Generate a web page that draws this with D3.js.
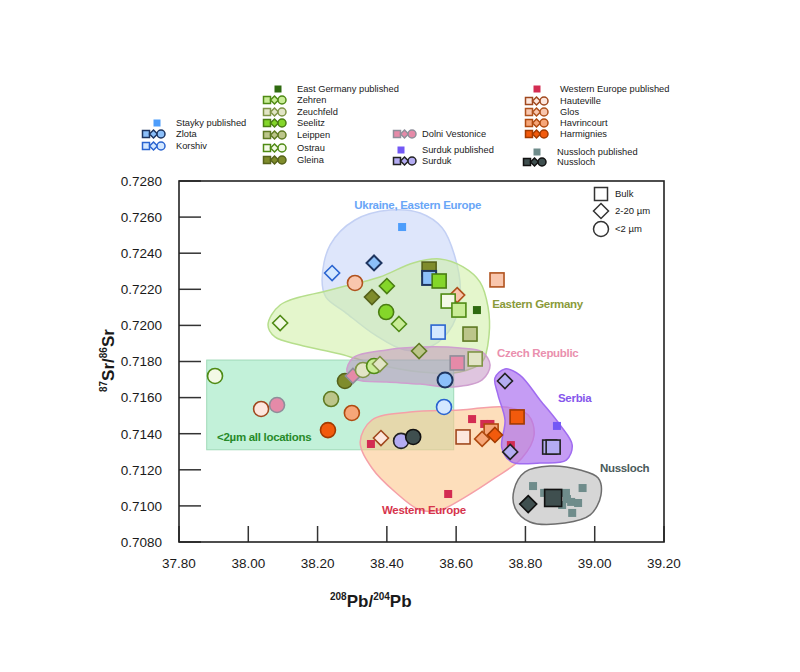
<!DOCTYPE html>
<html lang="en">
  <head>
    <meta charset="utf-8">
    <title>Sr-Pb isotopes</title>
    <script src="https://d3js.org/d3.v7.min.js"></script>
    <style>
      body { margin: 0; background: #fff; }
      text { font-family: "Liberation Sans", Arial, sans-serif; fill: #1a1a1a; }
    </style>
  </head>
  <body>
    <script>
      const w = 800;
      const h = 672;
      const plot = {left: 179, right: 664, top: 181, bottom: 542};

      // ticks
      const xTicks = [37.8, 38.0, 38.2, 38.4, 38.6, 38.8, 39.0, 39.2];
      const yTicks = [0.708, 0.710, 0.712, 0.714, 0.716, 0.718, 0.720, 0.722, 0.724, 0.726, 0.728];

      // published reference values (small squares)
      const published = [
        ["Stayky", 38.444, 0.72545],
        ["East Germany", 38.660, 0.72085],
        ["Surduk", 38.891, 0.71443],
        ["Western Europe", 38.646, 0.71481],
        ["Western Europe", 38.681, 0.71454],
        ["Western Europe", 38.699, 0.71454],
        ["Western Europe", 38.758, 0.71337],
        ["Western Europe", 38.577, 0.71066],
        ["Western Europe", 38.354, 0.71343],
        ["Nussloch", 38.822, 0.71110],
        ["Nussloch", 38.854, 0.71072],
        ["Nussloch", 38.917, 0.71072],
        ["Nussloch", 38.965, 0.71099],
        ["Nussloch", 38.920, 0.71038],
        ["Nussloch", 38.932, 0.71022],
        ["Nussloch", 38.952, 0.71016],
        ["Nussloch", 38.906, 0.71005],
        ["Nussloch", 38.935, 0.70961]
      ];

      // samples: location, fraction (bulk / fine = 2-20 um / clay = <2 um), Pb, Sr  (in drawing order)
      const samples = [
        ["Gleina", "bulk", 38.522, 0.72312],
        ["Zlota", "bulk", 38.522, 0.72263],
        ["Seelitz", "bulk", 38.551, 0.72246],
        ["Glos", "fine", 38.603, 0.72168],
        ["Ostrau", "bulk", 38.577, 0.72135],
        ["Zehren", "bulk", 38.608, 0.72085],
        ["Glos", "bulk", 38.718, 0.72252],
        ["Korshiv", "bulk", 38.548, 0.71963],
        ["Leippen", "bulk", 38.640, 0.71952],
        ["Zeuchfeld", "bulk", 38.655, 0.71814],
        ["Dolni Vestonice", "bulk", 38.603, 0.71792],
        ["Harmignies", "bulk", 38.776, 0.71493],
        ["Hauteville", "bulk", 38.620, 0.71382],
        ["Havrincourt", "bulk", 38.701, 0.71415],
        ["Surduk", "bulk", 38.870, 0.71326],
        ["Surduk", "bulk", 38.880, 0.71326],
        ["Nussloch", "bulk", 38.880, 0.71044],
        ["Korshiv", "fine", 38.242, 0.72290],
        ["Zlota", "fine", 38.363, 0.72346],
        ["Seelitz", "fine", 38.400, 0.72218],
        ["Gleina", "fine", 38.357, 0.72157],
        ["Zehren", "fine", 38.435, 0.72008],
        ["Ostrau", "fine", 38.092, 0.72013],
        ["Leippen", "fine", 38.493, 0.71858],
        ["Surduk", "fine", 38.741, 0.71692],
        ["Hauteville", "fine", 38.383, 0.71376],
        ["Havrincourt", "fine", 38.675, 0.71371],
        ["Harmignies", "fine", 38.712, 0.71393],
        ["Surduk", "fine", 38.756, 0.71299],
        ["Nussloch", "fine", 38.808, 0.71010],
        ["Glos", "clay", 38.308, 0.72235],
        ["Seelitz", "clay", 38.398, 0.72074],
        ["Zlota", "clay", 38.568, 0.71698],
        ["Korshiv", "clay", 38.565, 0.71548],
        ["Ostrau", "clay", 37.904, 0.71720],
        ["Hauteville", "clay", 38.037, 0.71537],
        ["Dolni Vestonice", "clay", 38.083, 0.71559],
        ["Leippen", "clay", 38.239, 0.71592],
        ["Harmignies", "clay", 38.230, 0.71420],
        ["Havrincourt", "clay", 38.299, 0.71515],
        ["Gleina", "clay", 38.279, 0.71692],
        ["Dolni Vestonice", "fine", 38.302, 0.71720],
        ["Zeuchfeld", "clay", 38.331, 0.71753],
        ["Zehren", "clay", 38.363, 0.71775],
        ["Zeuchfeld", "fine", 38.380, 0.71786],
        ["Surduk", "clay", 38.441, 0.71360],
        ["Nussloch", "clay", 38.476, 0.71382]
      ];

      // outlines of the regional fields (Pb, Sr)
      const ukraineField = [[38.213,0.72252],[38.236,0.72445],[38.308,0.72584],[38.409,0.72639],[38.496,0.72623],[38.560,0.72540],[38.595,0.72390],[38.612,0.72196],[38.590,0.72002],[38.530,0.71886],[38.452,0.71864],[38.366,0.71947],[38.279,0.72074],[38.224,0.72157]];
      const germanyField = [[38.057,0.72002],[38.092,0.72113],[38.236,0.72196],[38.380,0.72268],[38.476,0.72346],[38.553,0.72368],[38.620,0.72324],[38.669,0.72240],[38.692,0.72102],[38.695,0.71947],[38.675,0.71797],[38.611,0.71742],[38.496,0.71742],[38.366,0.71786],[38.265,0.71842],[38.149,0.71891],[38.077,0.71936]];
      const czechField = [[38.285,0.71742],[38.302,0.71820],[38.400,0.71864],[38.496,0.71880],[38.611,0.71875],[38.675,0.71853],[38.698,0.71781],[38.675,0.71698],[38.591,0.71659],[38.496,0.71675],[38.400,0.71686],[38.314,0.71698]];
      const westField = [[38.323,0.71354],[38.357,0.71476],[38.467,0.71520],[38.611,0.71531],[38.741,0.71548],[38.808,0.71504],[38.825,0.71393],[38.790,0.71265],[38.712,0.71155],[38.626,0.71049],[38.553,0.70977],[38.496,0.70977],[38.424,0.71077],[38.357,0.71210]];
      const serbiaField = [[38.712,0.71709],[38.741,0.71759],[38.784,0.71725],[38.842,0.71587],[38.900,0.71448],[38.935,0.71337],[38.918,0.71254],[38.842,0.71238],[38.761,0.71243],[38.732,0.71321],[38.741,0.71476],[38.721,0.71614]];
      const nusslochField = [[38.767,0.71088],[38.799,0.71188],[38.871,0.71221],[38.958,0.71199],[39.010,0.71155],[39.018,0.71060],[38.987,0.70950],[38.914,0.70905],[38.813,0.70911],[38.770,0.70989]];
      const clayBox = [37.88, 38.593, 0.71311, 0.71808];

      const styles = {
        "Zlota": {fill: "#8cc0fa", stroke: "#1e3560"},
        "Korshiv": {fill: "#d4e8ff", stroke: "#2a64d0"},
        "Zehren": {fill: "#c9ec96", stroke: "#4f8a14"},
        "Zeuchfeld": {fill: "#e2e5c6", stroke: "#7f9446"},
        "Seelitz": {fill: "#84d62a", stroke: "#4a7e12"},
        "Leippen": {fill: "#bcc58a", stroke: "#5f7a22"},
        "Ostrau": {fill: "#f3f9e6", stroke: "#4f8a14"},
        "Gleina": {fill: "#7f8c2c", stroke: "#56621a"},
        "Dolni Vestonice": {fill: "#e58aa8", stroke: "#8e8e9a"},
        "Surduk": {fill: "#b4acf2", stroke: "#222222"},
        "Hauteville": {fill: "#fde7de", stroke: "#a0481e"},
        "Glos": {fill: "#f9c6ad", stroke: "#b0521e"},
        "Havrincourt": {fill: "#f6a678", stroke: "#b04a10"},
        "Harmignies": {fill: "#f25a0c", stroke: "#a23a00"},
        "Nussloch": {fill: "#3f4f4f", stroke: "#111111"}
      };
      const pubColor = {"Stayky": "#4d9dfb", "East Germany": "#2f6a10", "Surduk": "#7358f5", "Western Europe": "#d32c52", "Nussloch": "#6f8c8b"};

      const xScale = d3.scaleLinear().domain([37.8, 39.2]).range([plot.left, plot.right]);
      const yScale = d3.scaleLinear().domain([0.708, 0.728]).range([plot.bottom, plot.top]);

      const svg = d3.select("body").append("svg")
        .attr("width", w)
        .attr("height", h);

      svg.append("rect").attr("width", w).attr("height", h).attr("fill", "#fff");

      // marker helper
      function marker(g, type, cx, cy, s) {
        let el;
        if (type === "bulk" || type === "pub") {
          el = g.append("rect").attr("x", cx - s / 2).attr("y", cy - s / 2).attr("width", s).attr("height", s);
        } else if (type === "fine") {
          const r = s / 2;
          el = g.append("path").attr("d", `M${cx},${cy - r}L${cx + r},${cy}L${cx},${cy + r}L${cx - r},${cy}Z`);
        } else {
          el = g.append("circle").attr("cx", cx).attr("cy", cy).attr("r", s / 2);
        }
        return el;
      }

      // fields
      const fieldLine = d3.line()
        .x(d => xScale(d[0]))
        .y(d => yScale(d[1]))
        .curve(d3.curveCatmullRomClosed.alpha(0.5));

      const fields = svg.append("g").attr("id", "fields");
      fields.append("path").attr("d", fieldLine(ukraineField))
        .attr("fill", "#d3defa").attr("fill-opacity", 0.75).attr("stroke", "#c3d0f4").attr("stroke-width", 1.5);
      fields.append("path").attr("d", fieldLine(germanyField))
        .attr("fill", "#cdeea2").attr("fill-opacity", 0.55).attr("stroke", "#b6de8c").attr("stroke-width", 1.5);
      fields.append("rect")
        .attr("x", xScale(clayBox[0])).attr("y", yScale(clayBox[3]))
        .attr("width", xScale(clayBox[1]) - xScale(clayBox[0]))
        .attr("height", yScale(clayBox[2]) - yScale(clayBox[3]))
        .attr("fill", "#b3eed0").attr("fill-opacity", 0.8).attr("stroke", "#9fd9b8").attr("stroke-width", 1);
      fields.append("path").attr("d", fieldLine(czechField))
        .attr("fill", "#b97fb8").attr("fill-opacity", 0.45).attr("stroke", "#cf9fcf").attr("stroke-width", 1.5);
      fields.append("path").attr("d", fieldLine(westField))
        .attr("fill", "#fbc88e").attr("fill-opacity", 0.6).attr("stroke", "#f5a0a8").attr("stroke-width", 1.5);
      fields.append("path").attr("d", fieldLine(serbiaField))
        .attr("fill", "#ad72f0").attr("fill-opacity", 0.7).attr("stroke", "#a06cf0").attr("stroke-width", 1.5);
      fields.append("path").attr("d", fieldLine(nusslochField))
        .attr("fill", "#d6d6d6").attr("stroke", "#6e6e6e").attr("stroke-width", 1.5);

      // field labels
      const fieldLabels = [
        ["Ukraine, Eastern Europe", 38.489, 0.72645, "#69a6f7", "middle"],
        ["Eastern Germany", 38.704, 0.72096, "#8a9a3a", "start"],
        ["Czech Republic", 38.718, 0.71825, "#ea8fae", "start"],
        ["Serbia", 38.894, 0.71576, "#8656ec", "start"],
        ["Nussloch", 39.015, 0.71188, "#4b5b5b", "start"],
        ["Western Europe", 38.386, 0.70955, "#d6344c", "start"],
        ["<2\u00b5m all locations", 37.910, 0.71360, "#278a2a", "start"]
      ];
      svg.append("g").selectAll("text")
        .data(fieldLabels)
        .enter()
        .append("text")
        .attr("x", d => xScale(d[1]))
        .attr("y", d => yScale(d[2]))
        .attr("text-anchor", d => d[4])
        .attr("font-size", "11.5px")
        .attr("font-weight", "bold")
        .attr("letter-spacing", "-0.3px")
        .style("fill", d => d[3])
        .text(d => d[0]);

      // published values
      const pts = svg.append("g").attr("id", "points");
      published.forEach(d => {
        marker(pts, "pub", xScale(d[1]), yScale(d[2]), 8).attr("fill", pubColor[d[0]]);
      });

      // samples
      samples.forEach(d => {
        const st = styles[d[0]];
        let s = d[1] === "bulk" ? 14 : 15;
        if (d[0] === "Nussloch" && d[1] !== "clay") s = 17;
        marker(pts, d[1], xScale(d[2]), yScale(d[3]), s)
          .attr("fill", st.fill)
          .attr("stroke", st.stroke)
          .attr("stroke-width", d[0] === "Zlota" ? 2 : 1.6);
      });

      // frame and ticks
      const axes = svg.append("g").attr("id", "axes");
      axes.selectAll("line.yt").data(yTicks).enter().append("line")
        .attr("x1", plot.left).attr("x2", plot.left + 22)
        .attr("y1", d => yScale(d)).attr("y2", d => yScale(d))
        .attr("stroke", "#333").attr("stroke-width", 1.5);
      axes.selectAll("line.xt").data(xTicks).enter().append("line")
        .attr("x1", d => xScale(d)).attr("x2", d => xScale(d))
        .attr("y1", plot.bottom).attr("y2", plot.bottom - 16)
        .attr("stroke", "#333").attr("stroke-width", 1.5);
      axes.append("rect")
        .attr("x", plot.left).attr("y", plot.top)
        .attr("width", plot.right - plot.left).attr("height", plot.bottom - plot.top)
        .attr("fill", "none").attr("stroke", "#222").attr("stroke-width", 1.6);

      axes.selectAll("text.yl").data(yTicks).enter().append("text")
        .attr("x", 162).attr("y", d => yScale(d)).attr("dy", "0.36em")
        .attr("text-anchor", "end").attr("font-size", "13.5px")
        .text(d => d.toFixed(4));
      axes.selectAll("text.xl").data(xTicks).enter().append("text")
        .attr("x", d => xScale(d)).attr("y", 568)
        .attr("text-anchor", "middle").attr("font-size", "13.5px")
        .text(d => d.toFixed(2));

      // axis titles
      const xt = svg.append("text").attr("x", 330).attr("y", 607)
        .attr("font-weight", "bold").attr("font-size", "17px");
      xt.append("tspan").attr("font-size", "10px").attr("dy", "-7").text("208");
      xt.append("tspan").attr("dy", "7").text("Pb/");
      xt.append("tspan").attr("font-size", "10px").attr("dy", "-7").text("204");
      xt.append("tspan").attr("dy", "7").text("Pb");

      const yt = svg.append("text")
        .attr("transform", "translate(114,392) rotate(-90)")
        .attr("font-weight", "bold").attr("font-size", "17px");
      yt.append("tspan").attr("font-size", "10px").attr("dy", "-7").text("87");
      yt.append("tspan").attr("dy", "7").text("Sr/");
      yt.append("tspan").attr("font-size", "10px").attr("dy", "-7").text("86");
      yt.append("tspan").attr("dy", "7").text("Sr");

      // fraction key inside the plot
      const key = svg.append("g").attr("id", "key");
      [["bulk", "Bulk", 194], ["fine", "2-20 \u00b5m", 211], ["clay", "<2 \u00b5m", 229]].forEach(k => {
        marker(key, k[0], 601, k[2], k[0] === "bulk" ? 13 : 15)
          .attr("fill", "#fff").attr("stroke", "#333").attr("stroke-width", 1.5);
        key.append("text").attr("x", 615).attr("y", k[2]).attr("dy", "0.35em")
          .attr("font-size", "9.5px").text(k[1]);
      });

      // legend above the plot
      const legend = svg.append("g").attr("id", "legend");
      function legendPub(name, mx, tx, y) {
        marker(legend, "pub", mx, y, 7).attr("fill", pubColor[name]);
        legend.append("text").attr("x", tx).attr("y", y).attr("dy", "0.35em")
          .attr("font-size", "9.3px").text(name + " published");
      }
      function legendRow(name, mx, tx, y) {
        const st = styles[name];
        ["bulk", "fine", "clay"].forEach((t, i) => {
          marker(legend, t, mx + i * 7.5, y, t === "bulk" ? 7 : 8)
            .attr("fill", st.fill).attr("stroke", st.stroke).attr("stroke-width", 1.5);
        });
        legend.append("text").attr("x", tx).attr("y", y).attr("dy", "0.35em")
          .attr("font-size", "9.3px").text(name);
      }
      legendPub("Stayky", 157, 176, 123);
      legendRow("Zlota", 146, 176, 134);
      legendRow("Korshiv", 146, 176, 146);

      legendPub("East Germany", 278, 297, 89);
      [["Zehren", 100], ["Zeuchfeld", 112], ["Seelitz", 123], ["Leippen", 135], ["Ostrau", 148], ["Gleina", 160]]
        .forEach(r => legendRow(r[0], 267, 297, r[1]));

      legendRow("Dolni Vestonice", 397, 422, 134);
      legendPub("Surduk", 401, 422, 150);
      legendRow("Surduk", 397, 422, 161);

      legendPub("Western Europe", 537, 560, 89);
      [["Hauteville", 101], ["Glos", 112], ["Havrincourt", 123], ["Harmignies", 134]]
        .forEach(r => legendRow(r[0], 529, 560, r[1]));
      legendPub("Nussloch", 537, 557, 152);
      legendRow("Nussloch", 527, 557, 162);
    </script>
  </body>
</html>
